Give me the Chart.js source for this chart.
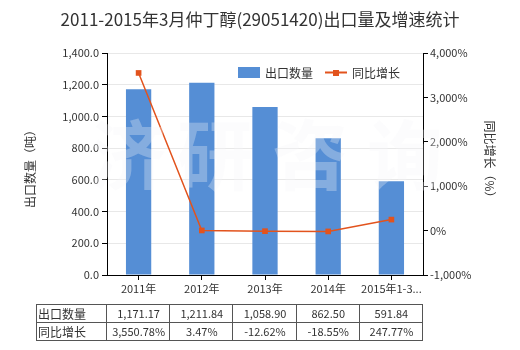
<!DOCTYPE html>
<html>
<head>
<meta charset="utf-8">
<script src="https://cdn.jsdelivr.net/npm/chart.js@4.4.1/dist/chart.umd.min.js"></script>
<style>
  html, body { margin: 0; padding: 0; background: #fff; }
  canvas { display: block; }
</style>
</head>
<body>
<canvas id="c" width="520" height="350"></canvas>
<script>
/* 2011-2015年3月仲丁醇出口量及增速 — bar + line with data table */

const TITLE = '2011-2015年3月仲丁醇(29051420)出口量及增速统计';
const categories = ['2011年', '2012年', '2013年', '2014年', '2015年1-3月'];
const exportQty = [1171.17, 1211.84, 1058.90, 862.50, 591.84];
const yoyGrowth = [3550.78, 3.47, -12.62, -18.55, 247.77];
const leftTicks = [0, 200, 400, 600, 800, 1000, 1200, 1400];
const rightTicks = [-1000, 0, 1000, 2000, 3000, 4000];
const seriesNames = ['出口数量', '同比增长'];
const axisTitles = ['出口数量（吨）', '同比增长（%）'];
const watermark = ['济', '研', '咨', '询'];

const FONT = "'Noto Sans CJK SC', 'Noto Sans', sans-serif";
const BAR = '#558ed5';
const LINE = '#e2531d';
const TXT = '#333';

const num2 = v => v.toLocaleString('en-US', { minimumFractionDigits: 2, maximumFractionDigits: 2 });

const extras = {
  id: 'extras',
  afterDatasetDraw(chart, args) {
    if (args.index !== 0) return;
    const ctx = chart.ctx;
    ctx.save();
    ctx.font = 'bold 76px ' + FONT;
    ctx.fillStyle = 'rgba(244,245,248,0.3)';
    ctx.textAlign = 'center';
    ctx.textBaseline = 'middle';
    const xs = [128, 215, 310, 405];
    watermark.forEach((ch, i) => ctx.fillText(ch, xs[i], 155));
    ctx.restore();
  },
  afterDraw(chart) {
    const ctx = chart.ctx;
    const x = chart.scales.x;
    ctx.save();
    ctx.fillStyle = TXT;
    ctx.textBaseline = 'middle';

    // title
    ctx.font = '17px ' + FONT;
    ctx.textAlign = 'center';
    ctx.fillText(TITLE, 260, 20);

    // legend
    ctx.font = '12px ' + FONT;
    ctx.textAlign = 'left';
    ctx.fillStyle = BAR;
    ctx.fillRect(238, 67, 22, 11);
    ctx.fillStyle = TXT;
    ctx.fillText(seriesNames[0], 265, 73);
    ctx.strokeStyle = LINE;
    ctx.lineWidth = 2;
    ctx.beginPath(); ctx.moveTo(325, 72.5); ctx.lineTo(347, 72.5); ctx.stroke();
    ctx.fillStyle = LINE;
    ctx.fillRect(333, 70, 6, 6);
    ctx.fillStyle = TXT;
    ctx.fillText(seriesNames[1], 352, 73);

    // axis titles
    ctx.font = '12px ' + FONT;
    ctx.textAlign = 'center';
    ctx.save();
    ctx.translate(30, 166); ctx.rotate(-Math.PI / 2);
    ctx.fillText(axisTitles[0], 0, 0);
    ctx.restore();
    ctx.save();
    ctx.translate(490, 162); ctx.rotate(Math.PI / 2);
    ctx.fillText(axisTitles[1], 0, 0);
    ctx.restore();

    // data table
    const top = 304, mid = 322, bot = 340, left = 36;
    const colW = (x.right - x.left) / categories.length;
    ctx.strokeStyle = '#555';
    ctx.lineWidth = 1;
    ctx.beginPath();
    [top, mid, bot].forEach(y => { ctx.moveTo(left, y + 0.5); ctx.lineTo(x.right, y + 0.5); });
    ctx.moveTo(left + 0.5, top); ctx.lineTo(left + 0.5, bot + 1);
    for (let i = 0; i <= categories.length; i++) {
      const cx = Math.round(x.left + i * colW) - 0.5;
      ctx.moveTo(cx, top); ctx.lineTo(cx, bot + 1);
    }
    ctx.stroke();

    ctx.font = '12px ' + FONT;
    ctx.textAlign = 'left';
    ctx.fillText(seriesNames[0], 38, (top + mid) / 2 + 1);
    ctx.fillText(seriesNames[1], 38, (mid + bot) / 2 + 1);
    ctx.font = '11px ' + FONT;
    ctx.textAlign = 'center';
    categories.forEach((_, i) => {
      const cx = x.left + (i + 0.5) * colW;
      ctx.fillText(num2(exportQty[i]), cx, (top + mid) / 2 + 1);
      ctx.fillText(num2(yoyGrowth[i]) + '%', cx, (mid + bot) / 2 + 1);
    });
    ctx.restore();
  }
};

new Chart(document.getElementById('c'), {
  data: {
    labels: categories,
    datasets: [
      {
        type: 'line', label: seriesNames[1], data: yoyGrowth, yAxisID: 'y1', order: 0,
        borderColor: LINE, borderWidth: 1.5, backgroundColor: LINE,
        pointStyle: 'rect', pointRadius: 4, pointBorderWidth: 0, tension: 0
      },
      {
        type: 'bar', label: seriesNames[0], data: exportQty, yAxisID: 'y', order: 1,
        backgroundColor: BAR, barPercentage: 0.4, categoryPercentage: 1
      }
    ]
  },
  options: {
    responsive: false,
    animation: false,
    devicePixelRatio: 1,
    layout: { padding: { top: 53, left: 0, right: 0, bottom: 0 } },
    plugins: { legend: { display: false }, tooltip: { enabled: false }, title: { display: false } },
    scales: {
      x: {
        afterFit: s => { s.height = 75; },
        grid: { offset: false, drawOnChartArea: false, tickLength: 5, tickColor: '#000' },
        border: { color: '#000' },
        ticks: {
          color: TXT, font: { family: FONT, size: 11 }, padding: 2, maxRotation: 0, autoSkip: false,
          callback: function (v) {
            const s = this.getLabelForValue(v);
            return s.length > 8 ? s.slice(0, 8) + '...' : s;
          }
        }
      },
      y: {
        position: 'left',
        min: leftTicks[0], max: leftTicks[leftTicks.length - 1],
        afterFit: s => { s.width = 107; },
        afterBuildTicks: s => { s.ticks = leftTicks.map(v => ({ value: v })); },
        grid: { color: '#e8e8e8', tickLength: 5, tickColor: '#000' },
        border: { color: '#000' },
        ticks: {
          color: TXT, font: { family: FONT, size: 11 }, padding: 3,
          callback: v => v.toLocaleString('en-US', { minimumFractionDigits: 1, maximumFractionDigits: 1 })
        }
      },
      y1: {
        position: 'right',
        min: rightTicks[0], max: rightTicks[rightTicks.length - 1],
        afterFit: s => { s.width = 97; },
        afterBuildTicks: s => { s.ticks = rightTicks.map(v => ({ value: v })); },
        grid: { drawOnChartArea: false, tickLength: 5, tickColor: '#000' },
        border: { color: '#000' },
        ticks: {
          color: TXT, font: { family: FONT, size: 11 }, padding: 2,
          callback: v => v.toLocaleString('en-US') + '%'
        }
      }
    }
  },
  plugins: [extras]
});
</script>
</body>
</html>
